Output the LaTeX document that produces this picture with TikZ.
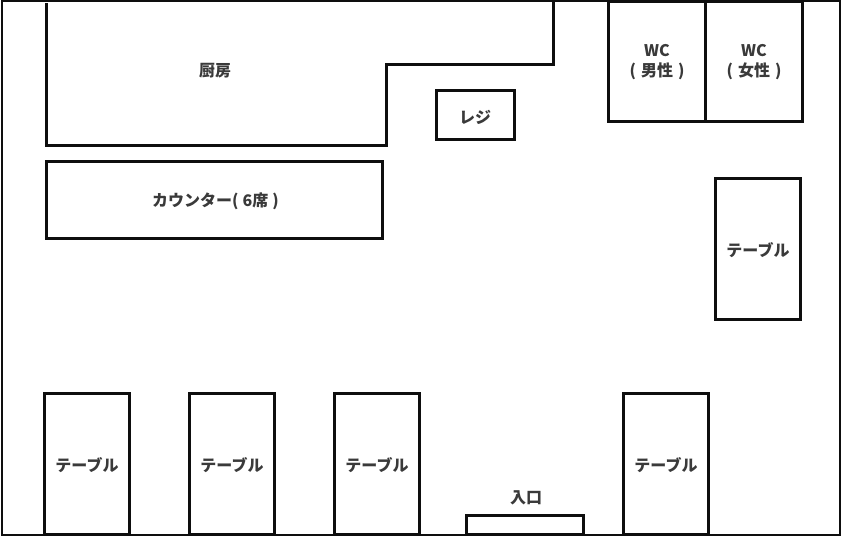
\documentclass[tikz,border=0pt]{standalone}
\usepackage{fontspec}
\setmainfont{Noto Sans CJK JP}
\definecolor{inkline}{HTML}{0E0E0E}
\definecolor{inktext}{HTML}{3A3A3A}
\tikzset{
  x=1pt,y=-1pt,
  wall/.style={draw=inkline,line width=2pt,line join=miter},
  kitchenwall/.style={draw=inkline,line width=3pt,line join=miter},
  room/.style={draw=inkline,line width=3.4pt,rectangle,inner sep=0pt,outer sep=0pt,
    minimum width=#1},
  roomh/.style={minimum height=#1},
  label/.style={text=inktext,font=\fontsize{16}{20}\selectfont\bfseries,inner sep=0pt,align=center},
}
\begin{document}
\begin{tikzpicture}
\useasboundingbox (0,0) rectangle (842,536);
\fill[white] (0,0) rectangle (842,536);
% kitchen
\coordinate (k1) at (46,3);
\coordinate (k2) at (46,145);
\coordinate (k3) at (386,145);
\coordinate (k4) at (386,64);
\coordinate (k5) at (553,64);
\coordinate (k6) at (553,1);
\draw[kitchenwall] (k1) -- (k2) -- (k3) -- (k4) -- (k5) -- (k6);
\node[label] (kitchen) at (215,70.5) {厨房};
% rooms, kept inside the outer wall
\begin{scope}
\clip (1.5,1) rectangle (840,535);
\node[room=336pt,roomh=77pt] (counter) at (214.5,200) {};
\node[room=78pt,roomh=49pt] (register) at (475.5,115) {};
\node[room=97pt,roomh=120.5pt] (wcm) at (657,61.25) {};
\node[room=97pt,roomh=120.5pt] (wcf) at (754,61.25) {};
\node[room=85pt,roomh=141pt] (t1) at (758,249) {};
\node[room=85pt,roomh=141.5pt] (t2) at (87,464.25) {};
\node[room=85pt,roomh=141.5pt] (t3) at (232,464.25) {};
\node[room=85pt,roomh=141.5pt] (t4) at (377,464.25) {};
\node[room=85pt,roomh=141.5pt] (t5) at (666,464.25) {};
\node[room=117pt,roomh=19.5pt] (door) at (525,525.25) {};
\end{scope}
\node[label] (countert) at (215.5,201) {カウンター(\hspace{4pt}6席\hspace{4pt})};
\node[label] (registert) at (475,117) {レジ};
\node[label] (wcmt) at (657,62) {WC\\(\hspace{5pt}男性\hspace{5pt})};
\node[label] (wcft) at (754,62) {WC\\(\hspace{5pt}女性\hspace{5pt})};
\node[label] (t1t) at (758,250) {テーブル};
\node[label] (t2t) at (87,465) {テーブル};
\node[label] (t3t) at (232,465) {テーブル};
\node[label] (t4t) at (377,465) {テーブル};
\node[label] (t5t) at (666,465) {テーブル};
\node[label] (entrance) at (526,497.5) {入口};
% outer wall
\draw[wall] (1.5,1) rectangle (840,535);
\end{tikzpicture}
\end{document}
